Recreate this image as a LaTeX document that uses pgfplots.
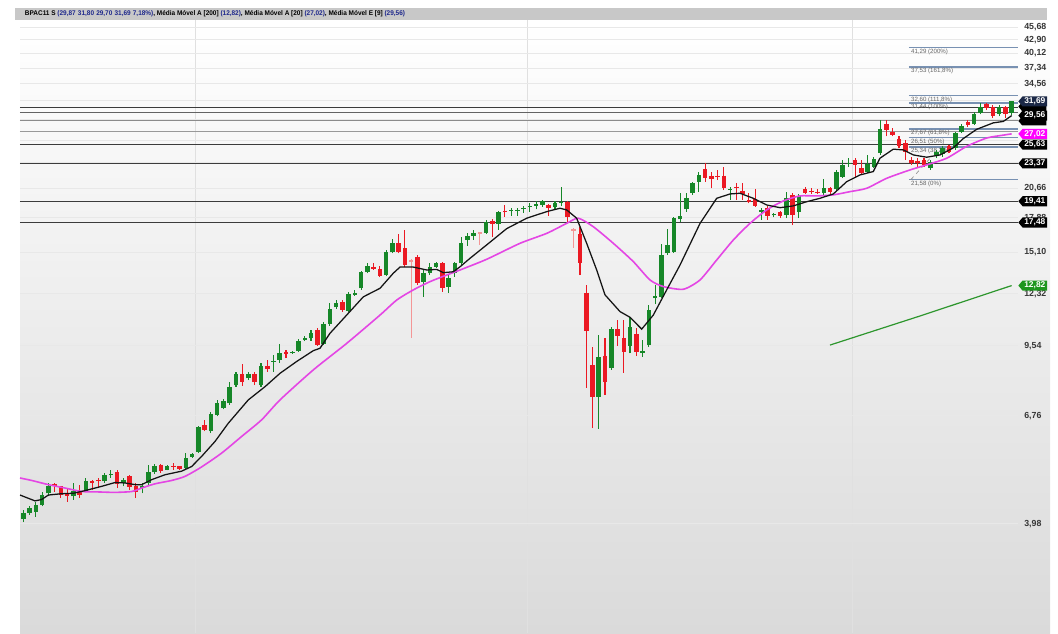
\documentclass[border=0pt]{standalone}
\usepackage{pgfplots}
\pgfplotsset{compat=1.18}
\usepackage{fontspec}
\setmainfont{Liberation Sans}
\usetikzlibrary{shapes.symbols}
\definecolor{cg}{RGB}{22,135,40}
\definecolor{cr}{RGB}{235,25,35}
\definecolor{cpale}{RGB}{244,150,150}
\definecolor{cema}{RGB}{20,20,20}
\definecolor{cma}{RGB}{228,70,228}
\definecolor{cmal}{RGB}{45,150,45}
\definecolor{cfib}{RGB}{120,145,178}
\definecolor{chl}{RGB}{60,60,60}
\definecolor{bgbot}{RGB}{218,218,218}
\definecolor{barg}{RGB}{200,200,200}
\definecolor{navy}{RGB}{30,40,140}
\definecolor{tickc}{RGB}{55,55,55}
\definecolor{boxnavy}{RGB}{27,40,70}
\definecolor{boxmag}{RGB}{255,0,255}
\definecolor{boxgreen}{RGB}{30,150,30}
\tikzset{pbox/.style={signal, signal to=west, signal pointer angle=100, anchor=west, text=white,
  font=\fontsize{6.3}{6.3}\selectfont\bfseries, inner xsep=1.3pt, inner ysep=1.1pt}}
\begin{document}
\begin{tikzpicture}
\fill[top color=white, bottom color=bgbot] (15pt,0pt) rectangle (787.5pt,459.75pt);
\fill[barg] (11.25pt,459.75pt) rectangle (785.25pt,468.75pt);
\node[anchor=west, inner sep=0pt, font=\fontsize{5.1}{5.1}\selectfont\bfseries] at (18.5pt,464.2pt)
 {\scalebox{0.95}[1]{BPAC11 S {\color{navy}(29,87\,\,31,80\,\,29,70\,\,31,69\,\,7,18\%)}, Média Móvel A [200] {\color{navy}(12,82)}, Média Móvel A [20] {\color{navy}(27,02)}, Média Móvel E [9] {\color{navy}(29,56)}}};
\begin{axis}[
  at={(15pt,0pt)}, anchor=south west,
  scale only axis, width=748.5pt, height=459.75pt,
  xmin=0.47, xmax=160.03,
  ymode=log, ymin=2.325, ymax=47.28,
  axis line style={draw=none},
  xtick={28.45,81.53,133.48}, xticklabel=\empty, xmajorgrids,
  x grid style={black!12, line width=0.6pt},
  ytick={3.98,6.76,9.54,12.32,15.10,17.88,20.66,23.44,26.22,29.00,31.78,34.56,37.34,40.12,42.90,45.68},
  yticklabels={{3,98},{6,76},{9,54},{12,32},{15,10},{17,88},{20,66},{},{},{},{},{34,56},{37,34},{40,12},{42,90},{45,68}},
  ymajorgrids, y grid style={black!9, line width=0.6pt},
  yticklabel pos=right,
  major tick length=0pt,
  yticklabel style={anchor=west, inner sep=0pt, xshift=4.5pt, text=tickc, font=\fontsize{6.6}{6.6}\selectfont\bfseries},
  unbounded coords=jump,
]
% horizontal levels
\addplot[chl, line width=0.8pt] coordinates {(0.47,30.72)(160.03,30.72)};
\addplot[chl!80, line width=0.7pt] coordinates {(0.47,30.04)(160.03,30.04)};
\addplot[black!45, line width=0.7pt] coordinates {(0.47,28.85)(160.03,28.85)};
\addplot[black!40, line width=0.7pt] coordinates {(0.47,27.40)(160.03,27.40)};
\addplot[chl, line width=0.8pt] coordinates {(0.47,25.63)(160.03,25.63)};
\addplot[chl, line width=0.8pt] coordinates {(0.47,23.37)(160.03,23.37)};
\addplot[chl, line width=0.8pt] coordinates {(0.47,19.41)(160.03,19.41)};
\addplot[chl, line width=0.8pt] coordinates {(0.47,17.48)(160.03,17.48)};
% fibonacci levels
\addplot[cfib, line width=1.1pt] coordinates {(142.6,41.29)(160.03,41.29)};
\addplot[cfib, line width=1.1pt] coordinates {(142.6,37.53)(160.03,37.53)};
\addplot[cfib, line width=1.1pt] coordinates {(142.6,32.60)(160.03,32.60)};
\addplot[cfib, line width=1.1pt] coordinates {(142.6,31.44)(160.03,31.44)};
\addplot[cfib, line width=1.1pt] coordinates {(142.6,27.67)(160.03,27.67)};
\addplot[cfib, line width=1.1pt] coordinates {(142.6,26.51)(160.03,26.51)};
\addplot[cfib, line width=1.1pt] coordinates {(142.6,25.34)(160.03,25.34)};
\addplot[cfib, line width=1.1pt] coordinates {(142.6,21.58)(160.03,21.58)};
\addplot[black!45, dashed, line width=0.5pt] coordinates {(142.9,21.58)(145.9,23.90)};
\foreach \v/\t in {41.29/{41,29 (200\%)},37.53/{37,53 (161,8\%)},32.60/{32,60 (111,8\%)},31.44/{31,44 (100\%)},27.67/{27,67 (61,8\%)},26.51/{26,51 (50\%)},25.34/{25,34 (38,2\%)},21.58/{21,58 (0\%)}}{
  \edef\tmp{\noexpand\node[anchor=north west, inner sep=0pt, yshift=-0.6pt, text=black!60, font=\noexpand\fontsize{4.6}{4.6}\noexpand\selectfont] at (axis cs:142.9,\v) {\t};}\tmp
}
% wicks
\addplot[cg, line width=0.8pt] coordinates {
(1,4.01)(1,4.26)(1,nan) (2,4.16)(2,4.33)(2,nan) (3,4.12)(3,4.43)(3,nan) (4,4.33)(4,4.64)(4,nan) (5,4.55)(5,4.86)(5,nan)
(9,4.47)(9,4.86)(9,nan) (11,4.65)(11,4.98)(11,nan) (14,4.86)(14,5.11)(14,nan) (15,4.98)(15,5.19)(15,nan) (17,4.78)(17,4.98)(17,nan)
(20,4.62)(20,4.86)(20,nan) (21,4.82)(21,5.32)(21,nan) (22,5.08)(22,5.34)(22,nan) (24,5.17)(24,5.32)(24,nan) (27,5.19)(27,5.63)(27,nan)
(28,5.50)(28,5.64)(28,nan) (29,5.63)(29,6.44)(29,nan) (31,6.21)(31,6.90)(31,nan) (32,6.74)(32,7.31)(32,nan) (33,6.98)(33,7.33)(33,nan)
(34,7.13)(34,7.99)(34,nan) (35,7.80)(35,8.40)(35,nan) (37,8.06)(37,8.40)(37,nan) (39,7.80)(39,8.77)(39,nan) (41,8.40)(41,9.11)(41,nan)
(42,8.78)(42,9.62)(42,nan) (44,9.16)(44,9.31)(44,nan) (45,9.26)(45,9.84)(45,nan) (46,9.76)(46,10.00)(46,nan) (47,9.78)(47,10.31)(47,nan)
(49,9.57)(49,10.74)(49,nan) (50,10.52)(50,11.75)(50,nan) (51,11.44)(51,11.94)(51,nan) (53,11.28)(53,12.45)(53,nan) (54,12.19)(54,12.55)(54,nan)
(55,12.55)(55,13.79)(55,nan) (56,13.62)(56,14.35)(56,nan) (59,13.43)(59,15.27)(59,nan) (60,15.02)(60,16.09)(60,nan) (65,12.14)(65,13.84)(65,nan)
(66,13.50)(66,14.30)(66,nan) (67,13.95)(67,14.42)(67,nan) (69,12.37)(69,13.50)(69,nan) (70,13.40)(70,14.42)(70,nan) (71,14.18)(71,16.30)(71,nan)
(72,15.58)(72,16.63)(72,nan) (73,16.04)(73,16.85)(73,nan) (75,16.50)(75,17.70)(75,nan) (77,16.85)(77,18.53)(77,nan) (79,18.05)(79,18.76)(79,nan)
(80,18.05)(80,18.73)(80,nan) (81,18.35)(81,18.97)(81,nan) (82,18.44)(82,19.27)(82,nan) (83,18.65)(83,19.46)(83,nan) (84,18.90)(84,19.53)(84,nan)
(86,18.59)(86,19.46)(86,nan) (87,18.97)(87,20.81)(87,nan) (93,6.34)(93,10.06)(93,nan) (95,8.47)(95,10.48)(95,nan) (98,9.19)(98,10.97)(98,nan)
(100,9.04)(100,9.81)(100,nan) (101,9.49)(101,11.66)(101,nan) (102,11.70)(102,12.87)(102,nan) (103,12.04)(103,15.74)(103,nan) (104,14.90)(104,16.91)(104,nan)
(105,15.06)(105,17.98)(105,nan) (106,17.55)(106,20.21)(106,nan) (107,18.44)(107,20.18)(107,nan) (108,20.02)(108,21.36)(108,nan) (109,20.34)(109,22.45)(109,nan)
(114,19.53)(114,20.85)(114,nan) (119,17.70)(119,18.75)(119,nan) (121,17.92)(121,18.35)(121,nan) (123,17.85)(123,20.34)(123,nan) (125,17.85)(125,20.11)(125,nan)
(129,20.02)(129,21.62)(129,nan) (131,20.44)(131,22.63)(131,nan) (132,21.75)(132,23.77)(132,nan) (133,23.00)(133,23.97)(133,nan) (136,22.33)(136,24.36)(136,nan)
(137,22.82)(137,24.15)(137,nan) (138,24.36)(138,28.93)(138,nan) (146,22.63)(146,23.77)(146,nan) (147,23.97)(147,24.97)(147,nan) (148,24.15)(148,25.41)(148,nan)
(150,24.97)(150,27.33)(150,nan) (151,27.12)(151,28.39)(151,nan) (153,28.23)(153,30.10)(153,nan) (154,29.75)(154,31.41)(154,nan) (157,29.44)(157,31.10)(157,nan)
(159,29.70)(159,31.80)(159,nan)};
\addplot[cr, line width=0.8pt] coordinates {
(6,4.66)(6,4.87)(6,nan) (7,4.51)(7,4.79)(7,nan) (8,4.43)(8,4.74)(8,nan) (10,4.51)(10,4.82)(10,nan) (12,4.70)(12,4.94)(12,nan)
(13,4.74)(13,4.98)(13,nan) (16,4.74)(16,5.19)(16,nan) (18,4.70)(18,5.06)(18,nan) (19,4.51)(19,4.86)(19,nan) (23,5.11)(23,5.34)(23,nan)
(25,5.19)(25,5.36)(25,nan) (26,5.19)(26,5.29)(26,nan) (30,6.26)(30,6.63)(30,nan) (36,7.83)(36,8.73)(36,nan) (38,7.86)(38,8.40)(38,nan)
(40,8.40)(40,8.90)(40,nan) (43,8.97)(43,9.34)(43,nan) (48,9.53)(48,10.39)(48,nan) (52,11.28)(52,11.94)(52,nan) (57,13.84)(57,14.30)(57,nan)
(58,13.36)(58,14.12)(58,nan) (61,15.02)(61,16.52)(61,nan) (62,14.06)(62,16.85)(62,nan) (64,12.87)(64,14.90)(64,nan) (68,12.45)(68,14.42)(68,nan)
(76,16.30)(76,17.76)(76,nan) (78,17.98)(78,19.05)(78,nan) (85,18.05)(85,19.15)(85,nan) (88,17.55)(88,19.46)(88,nan) (90,13.50)(90,17.13)(90,nan)
(91,7.76)(91,12.87)(91,nan) (92,6.36)(92,9.49)(92,nan) (94,7.50)(94,9.89)(94,nan) (96,9.53)(96,10.83)(96,nan) (97,8.36)(97,10.83)(97,nan)
(99,9.07)(99,10.39)(99,nan) (110,21.36)(110,23.39)(110,nan) (111,20.68)(111,22.45)(111,nan) (112,21.54)(112,22.63)(112,nan) (113,20.51)(113,22.99)(113,nan)
(115,19.53)(115,21.19)(115,nan) (116,19.53)(116,21.19)(116,nan) (117,19.21)(117,20.18)(117,nan) (118,18.90)(118,20.58)(118,nan) (120,17.70)(120,18.97)(120,nan)
(122,17.85)(122,18.53)(122,nan) (124,17.26)(124,20.24)(124,nan) (126,20.11)(126,20.85)(126,nan) (127,20.11)(127,20.68)(127,nan) (128,20.11)(128,20.58)(128,nan)
(130,20.02)(130,20.85)(130,nan) (134,21.89)(134,23.97)(134,nan) (135,22.08)(135,23.77)(135,nan) (139,26.68)(139,28.93)(139,nan) (140,26.68)(140,27.75)(140,nan)
(141,25.22)(141,26.68)(141,nan) (142,23.77)(142,26.22)(142,nan) (143,23.20)(143,24.15)(143,nan) (144,22.82)(144,23.97)(144,nan) (145,23.00)(145,23.97)(145,nan)
(149,24.60)(149,25.62)(149,nan) (152,27.95)(152,28.93)(152,nan) (155,30.38)(155,31.47)(155,nan) (156,29.20)(156,31.10)(156,nan) (158,29.20)(158,31.00)(158,nan)};
\addplot[cpale, line width=0.8pt] coordinates {(63,9.91)(63,14.60)(63,nan) (74,15.66)(74,16.70)(74,nan) (89,15.42)(89,17.02)(89,nan)};
% bodies
\addplot[cg, line width=3.4pt] coordinates {
(1,4.07)(1,4.20)(1,nan) (2,4.19)(2,4.30)(2,nan) (3,4.22)(3,4.36)(3,nan) (4,4.36)(4,4.58)(4,nan) (5,4.62)(5,4.79)(5,nan)
(9,4.55)(9,4.68)(9,nan) (11,4.68)(11,4.90)(11,nan) (14,4.90)(14,5.06)(14,nan) (15,5.05)(15,5.08)(15,nan) (17,4.86)(17,4.92)(17,nan)
(20,4.73)(20,4.78)(20,nan) (21,4.86)(21,5.12)(21,nan) (22,5.12)(22,5.29)(22,nan) (24,5.19)(24,5.29)(24,nan) (27,5.23)(27,5.50)(27,nan)
(28,5.52)(28,5.61)(28,nan) (29,5.67)(29,6.41)(29,nan) (31,6.26)(31,6.81)(31,nan) (32,6.79)(32,7.21)(32,nan) (33,7.02)(33,7.27)(33,nan)
(34,7.19)(34,7.80)(34,nan) (35,7.86)(35,8.30)(35,nan) (37,8.13)(37,8.30)(37,nan) (39,7.86)(39,8.64)(39,nan) (41,8.81)(41,8.86)(41,nan)
(42,8.90)(42,9.22)(42,nan) (44,9.19)(44,9.25)(44,nan) (45,9.31)(45,9.78)(45,nan) (46,9.81)(46,9.92)(46,nan) (47,9.89)(47,10.17)(47,nan)
(49,9.62)(49,10.62)(49,nan) (50,10.62)(50,11.41)(50,nan) (51,11.52)(51,11.78)(51,nan) (53,11.33)(53,12.30)(53,nan) (54,12.26)(54,12.38)(54,nan)
(55,12.65)(55,13.68)(55,nan) (56,13.68)(56,14.13)(56,nan) (59,13.50)(59,15.10)(59,nan) (60,15.10)(60,15.78)(60,nan) (65,13.07)(65,13.62)(65,nan)
(66,13.62)(66,14.06)(66,nan) (67,14.06)(67,14.30)(67,nan) (69,12.76)(69,13.29)(69,nan) (70,13.66)(70,14.35)(70,nan) (71,14.35)(71,15.83)(71,nan)
(72,16.04)(72,16.35)(72,nan) (73,16.35)(73,16.63)(73,nan) (75,16.63)(75,17.55)(75,nan) (77,17.33)(77,18.38)(77,nan) (79,18.50)(79,18.59)(79,nan)
(80,18.50)(80,18.59)(80,nan) (81,18.65)(81,18.75)(81,nan) (82,18.85)(82,18.97)(82,nan) (83,18.97)(83,19.15)(83,nan) (84,19.05)(84,19.46)(84,nan)
(86,18.90)(86,19.21)(86,nan) (87,19.27)(87,19.36)(87,nan) (93,7.43)(93,9.02)(93,nan) (95,8.54)(95,10.35)(95,nan) (98,9.53)(98,10.48)(98,nan)
(100,9.22)(100,9.31)(100,nan) (101,9.57)(101,11.37)(101,nan) (102,12.04)(102,12.19)(102,nan) (103,12.14)(103,14.90)(103,nan) (104,15.02)(104,15.66)(104,nan)
(105,15.14)(105,17.85)(105,nan) (106,17.76)(106,18.05)(106,nan) (107,18.65)(107,19.69)(107,nan) (108,20.18)(108,21.19)(108,nan) (109,21.36)(109,22.08)(109,nan)
(114,20.58)(114,20.64)(114,nan) (119,18.44)(119,18.59)(119,nan) (121,18.11)(121,18.23)(121,nan) (123,18.14)(123,19.69)(123,nan) (125,18.44)(125,19.92)(125,nan)
(129,20.18)(129,20.68)(129,nan) (131,20.58)(131,22.45)(131,nan) (132,21.89)(132,23.20)(132,nan) (133,23.31)(133,23.45)(133,nan) (136,22.45)(136,23.31)(136,nan)
(137,23.00)(137,23.85)(137,nan) (138,24.60)(138,27.63)(138,nan) (146,22.82)(146,23.57)(146,nan) (147,24.36)(147,24.76)(147,nan) (148,24.48)(148,25.22)(148,nan)
(150,25.22)(150,27.12)(150,nan) (151,27.33)(151,28.09)(151,nan) (153,28.39)(153,29.75)(153,nan) (154,29.97)(154,30.89)(154,nan) (157,29.86)(157,30.89)(157,nan)
(159,29.87)(159,31.69)(159,nan)};
\addplot[cr, line width=3.4pt] coordinates {
(6,4.84)(6,4.78)(6,nan) (7,4.78)(7,4.58)(7,nan) (8,4.60)(8,4.55)(8,nan) (10,4.66)(10,4.58)(10,nan) (12,4.91)(12,4.87)(12,nan)
(13,4.94)(13,4.92)(13,nan) (16,5.12)(16,4.84)(16,nan) (18,5.02)(18,4.76)(18,nan) (19,4.78)(19,4.66)(19,nan) (23,5.32)(23,5.15)(23,nan)
(25,5.29)(25,5.26)(25,nan) (26,5.27)(26,5.21)(26,nan) (30,6.46)(30,6.31)(30,nan) (36,8.30)(36,7.99)(36,nan) (38,8.30)(38,7.99)(38,nan)
(40,8.65)(40,8.51)(40,nan) (43,9.25)(43,9.14)(43,nan) (48,10.31)(48,9.57)(48,nan) (52,11.84)(52,11.37)(52,nan) (57,14.06)(57,13.88)(57,nan)
(58,13.88)(58,13.43)(58,nan) (61,15.78)(61,15.10)(61,nan) (62,15.40)(62,14.18)(62,nan) (64,14.78)(64,12.97)(64,nan) (68,14.30)(68,12.65)(68,nan)
(76,17.61)(76,17.33)(76,nan) (78,18.53)(78,18.38)(78,nan) (85,19.02)(85,18.75)(85,nan) (88,19.36)(88,17.98)(88,nan) (90,16.52)(90,14.30)(90,nan)
(91,12.38)(91,10.28)(91,nan) (92,8.68)(92,7.43)(92,nan) (94,9.05)(94,7.99)(94,nan) (96,10.35)(96,10.00)(96,nan) (97,9.89)(97,9.26)(97,nan)
(99,10.11)(99,9.26)(99,nan) (110,22.74)(110,21.72)(110,nan) (111,21.97)(111,21.62)(111,nan) (112,21.97)(112,21.89)(112,nan) (113,22.00)(113,20.68)(113,nan)
(115,20.85)(115,20.68)(115,nan) (116,20.44)(116,20.11)(116,nan) (117,19.53)(117,19.36)(117,nan) (118,19.60)(118,18.97)(118,nan) (120,18.75)(120,18.05)(120,nan)
(122,18.38)(122,18.05)(122,nan) (124,20.02)(124,18.14)(124,nan) (126,20.58)(126,20.18)(126,nan) (127,20.44)(127,20.28)(127,nan) (128,20.34)(128,20.18)(128,nan)
(130,20.68)(130,20.34)(130,nan) (134,23.77)(134,23.20)(134,nan) (135,22.82)(135,22.26)(135,nan) (139,28.39)(139,27.54)(139,nan) (140,27.33)(140,26.91)(140,nan)
(141,26.31)(141,25.41)(141,nan) (142,25.82)(142,24.76)(142,nan) (143,23.77)(143,23.45)(143,nan) (144,23.69)(144,23.39)(144,nan) (145,23.77)(145,23.20)(145,nan)
(149,25.41)(149,24.76)(149,nan) (152,28.70)(152,28.23)(152,nan) (155,31.30)(155,30.64)(155,nan) (156,30.89)(156,29.44)(156,nan) (158,30.81)(158,29.75)(158,nan)};
\addplot[cpale, line width=3.4pt] coordinates {(63,14.54)(63,14.42)(63,nan) (74,16.66)(74,16.52)(74,nan) (89,16.91)(89,16.79)(89,nan)};
% moving averages
\addplot[cmal, line width=0.9pt] coordinates {(129.97,9.57)(144.36,11.04)(159.02,12.82)};
\addplot[cma, line width=1.2pt, smooth, tension=0.4] coordinates {
(0.47,4.98)(2.34,4.92)(5.00,4.82)(7.67,4.74)(10.34,4.66)(13.00,4.65)(15.66,4.64)(18.33,4.66)(19.93,4.74)(22.06,4.84)(24.72,4.92)(26.85,5.02)
(29.52,5.26)(32.72,5.63)(35.92,6.11)(39.11,6.63)(42.04,7.31)(47.36,8.47)(52.70,9.65)(58.03,11.09)(60.70,11.94)(63.35,12.55)(66.02,13.07)
(68.69,13.50)(70.82,13.84)(75.09,14.59)(80.41,15.78)(84.68,16.57)(87.88,17.41)(89.73,17.85)(92.13,17.12)(95.33,15.78)(98.53,14.42)
(101.19,13.18)(103.32,12.76)(106.52,12.59)(109.19,13.18)(111.86,14.54)(114.52,16.04)(117.19,17.41)(119.85,18.59)(122.51,19.43)
(125.17,19.92)(127.84,19.92)(130.50,20.02)(133.17,20.34)(135.84,20.68)(139.04,21.72)(142.76,22.63)(145.43,23.20)(148.63,23.97)
(151.82,25.41)(155.02,26.47)(157.68,26.85)(159.02,27.02)};
\addplot[cema, line width=0.95pt] coordinates {
(0.47,4.58)(2.87,4.45)(3.94,4.48)(5.00,4.58)(7.14,4.61)(8.99,4.62)(10.86,4.68)(13.53,4.78)(15.66,4.87)(17.26,4.86)(18.86,4.82)(19.93,4.82)
(21.53,4.94)(23.65,5.06)(26.32,5.15)(27.92,5.27)(29.52,5.54)(31.65,5.96)(33.78,6.52)(36.97,7.31)(39.64,7.80)(42.04,8.33)(44.71,8.83)
(47.36,9.31)(48.43,9.42)(50.03,10.14)(52.70,11.09)(55.36,12.13)(58.03,12.65)(60.15,13.62)(61.22,14.04)(63.35,14.04)(65.49,13.84)
(67.09,13.88)(68.15,13.66)(69.75,13.72)(70.82,14.06)(72.42,14.66)(75.09,15.66)(78.28,16.96)(81.48,17.85)(84.68,18.44)(86.80,18.75)
(87.88,18.59)(89.47,17.85)(91.07,15.78)(92.67,13.84)(94.00,12.25)(96.40,11.28)(98.00,10.97)(99.87,10.35)(101.72,11.09)(103.86,12.55)
(105.99,14.18)(109.19,17.40)(111.86,19.69)(113.99,20.11)(115.58,20.18)(117.71,19.69)(119.85,19.05)(121.98,18.80)(124.11,18.97)
(126.25,19.36)(128.37,19.69)(130.50,20.11)(132.64,21.36)(134.77,22.08)(136.89,22.45)(137.96,23.97)(140.09,25.06)(141.69,24.97)
(143.29,24.36)(145.43,24.09)(147.56,24.36)(149.68,25.22)(151.28,26.40)(153.42,27.63)(156.08,28.52)(157.68,28.72)(159.02,29.56)};
% anchors for price tags
\coordinate (t3090) at (axis cs:160.03,30.90);
\coordinate (t2880) at (axis cs:160.03,28.80);
\coordinate (t3169) at (axis cs:160.03,31.69);
\coordinate (t2956) at (axis cs:160.03,29.56);
\coordinate (t2702) at (axis cs:160.03,27.02);
\coordinate (t2563) at (axis cs:160.03,25.63);
\coordinate (t2337) at (axis cs:160.03,23.37);
\coordinate (t1941) at (axis cs:160.03,19.41);
\coordinate (t1748) at (axis cs:160.03,17.48);
\coordinate (t1282) at (axis cs:160.03,12.82);
\end{axis}
\node[pbox, fill=black, minimum width=21pt, minimum height=6.6pt] at (t3090) {};
\node[pbox, fill=black, minimum width=21pt, minimum height=6.6pt] at (t2880) {};
\node[pbox, fill=boxnavy] at (t3169) {31,69};
\node[pbox, fill=black] at (t2956) {29,56};
\node[pbox, fill=boxmag] at (t2702) {27,02};
\node[pbox, fill=black] at (t2563) {25,63};
\node[pbox, fill=black] at (t2337) {23,37};
\node[pbox, fill=black] at (t1941) {19,41};
\node[pbox, fill=black] at (t1748) {17,48};
\node[pbox, fill=boxgreen] at (t1282) {12,82};
\pgfresetboundingbox
\path[use as bounding box] (0pt,0pt) rectangle (793.5pt,474.75pt);
\end{tikzpicture}
\end{document}
